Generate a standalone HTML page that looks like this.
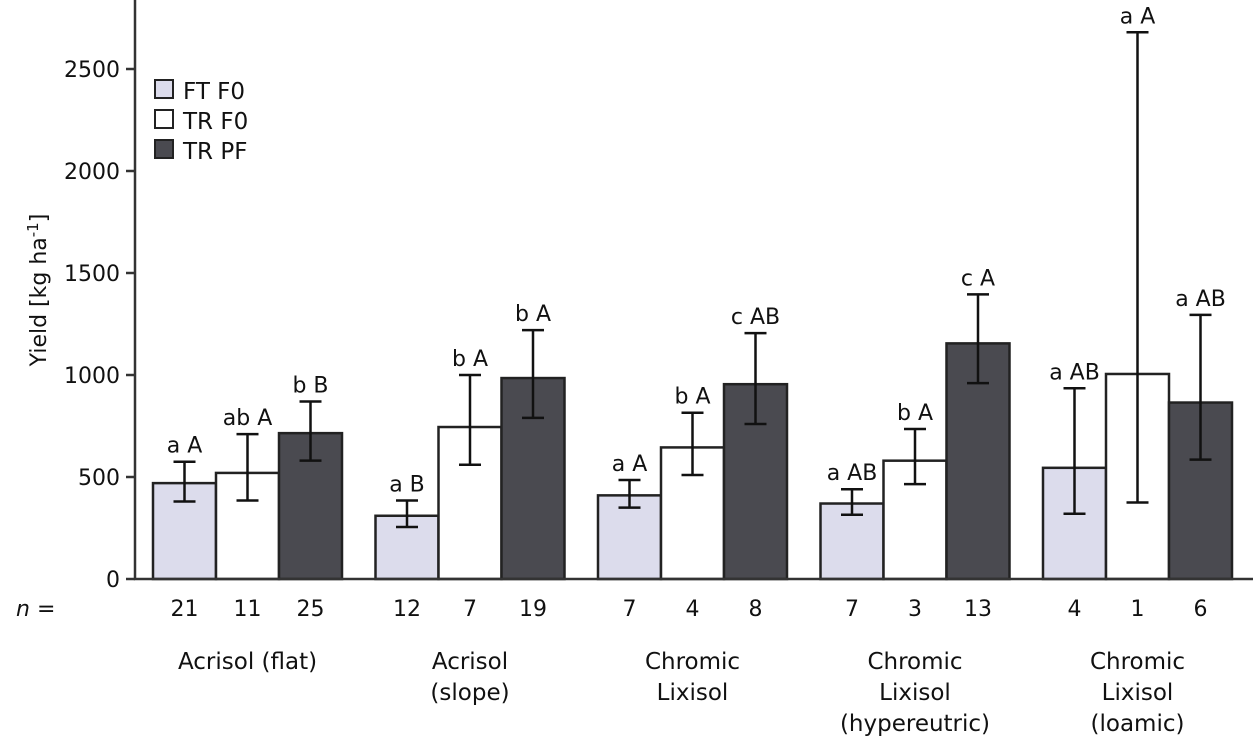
<!DOCTYPE html>
<html><head><meta charset="utf-8"><style>
body{margin:0;background:#fff;}
svg text{font-family:"DejaVu Sans","Liberation Sans",sans-serif;fill:#111;}
</style></head><body>
<svg width="1253" height="745" viewBox="0 0 1253 745">
<g id="chart"></g>
</svg>
<script>
const groups=["Acrisol (flat)","Acrisol|(slope)","Chromic|Lixisol","Chromic|Lixisol|(hypereutric)","Chromic|Lixisol|(loamic)"];
const series=["FT F0","TR F0","TR PF"];
const colors=["#dcdcec","#ffffff","#4a4a50"];
const values=[[470,520,715],[310,745,985],[410,645,955],[370,580,1155],[545,1005,865]];
const errLow=[[380,385,580],[255,560,790],[350,510,760],[315,465,960],[320,375,585]];
const errHigh=[[575,710,870],[385,1000,1220],[485,815,1205],[440,735,1395],[935,2680,1295]];
const letters=[["a A","ab A","b B"],["a B","b A","b A"],["a A","b A","c AB"],["a AB","b A","c A"],["a AB","a A","a AB"]];
const nvals=[[21,11,25],[12,7,19],[7,4,8],[7,3,13],[4,1,6]];
const yTicks=[0,500,1000,1500,2000,2500];
const g=document.getElementById('chart');
const NS="http://www.w3.org/2000/svg";
const x0=135,y0=579,pxPer=102/500,gStart=153,gStep=222.5,bw=63;
const y=v=>y0-v*pxPer;
const bx=(gi,si)=>gStart+gi*gStep+si*bw;
function el(t,a,txt){const e=document.createElementNS(NS,t);for(const k in a)e.setAttribute(k,a[k]);if(txt!==undefined)e.textContent=txt;g.appendChild(e);return e;}
values.forEach((row,gi)=>row.forEach((v,si)=>{
 const r=el('rect',{x:bx(gi,si),y:y(v),width:bw,height:y0-y(v),fill:colors[si],stroke:'#222','stroke-width':2.5});
 
 
 const cx=bx(gi,si)+bw/2;
 const eb=el('path',{d:`M${cx},${y(errLow[gi][si])}V${y(errHigh[gi][si])}M${cx-11},${y(errLow[gi][si])}h22M${cx-11},${y(errHigh[gi][si])}h22`,stroke:'#111','stroke-width':2.5,fill:'none'});
 
 
 const lt=el('text',{x:cx,y:y(errHigh[gi][si])-9,'text-anchor':'middle','font-size':22},letters[gi][si]);
 
 
 const nt=el('text',{x:cx,y:616,'text-anchor':'middle','font-size':22},nvals[gi][si]);
 
 
}));
const ax=el('path',{d:`M${x0},0V${y0}H1253`,stroke:'#333','stroke-width':2.5,fill:'none'});


yTicks.forEach(t=>{
 el('line',{x1:x0-9,x2:x0,y1:y(t),y2:y(t),stroke:'#333','stroke-width':2.5});
 const tt=el('text',{x:x0-15,y:y(t)+8,'text-anchor':'end','font-size':22},t);
 
 
});
const nl=el('text',{x:16,y:616,'font-size':22},'');
nl.innerHTML='<tspan font-style="italic">n</tspan> =';


groups.forEach((lab,gi)=>{
 const cx=bx(gi,1)+bw/2;
 lab.split('|').forEach((line,li)=>{
  const t=el('text',{x:cx,y:669+li*31,'text-anchor':'middle','font-size':23},line);
  
  
 });
});
const yt=el('text',{x:46,y:290,'text-anchor':'middle','font-size':22,transform:'rotate(-90 46 290)'},'');
yt.innerHTML='Yield [kg ha<tspan dy="-8" font-size="15">-1</tspan><tspan dy="8">]</tspan>';


series.forEach((s,si)=>{
 const yy=80+si*30;
 const r=el('rect',{x:155,y:yy,width:18,height:18,fill:colors[si],stroke:'#222','stroke-width':2});
 
 
 const t=el('text',{x:183,y:yy+19,'font-size':23},s);
 
 
});
</script>
</body></html>
